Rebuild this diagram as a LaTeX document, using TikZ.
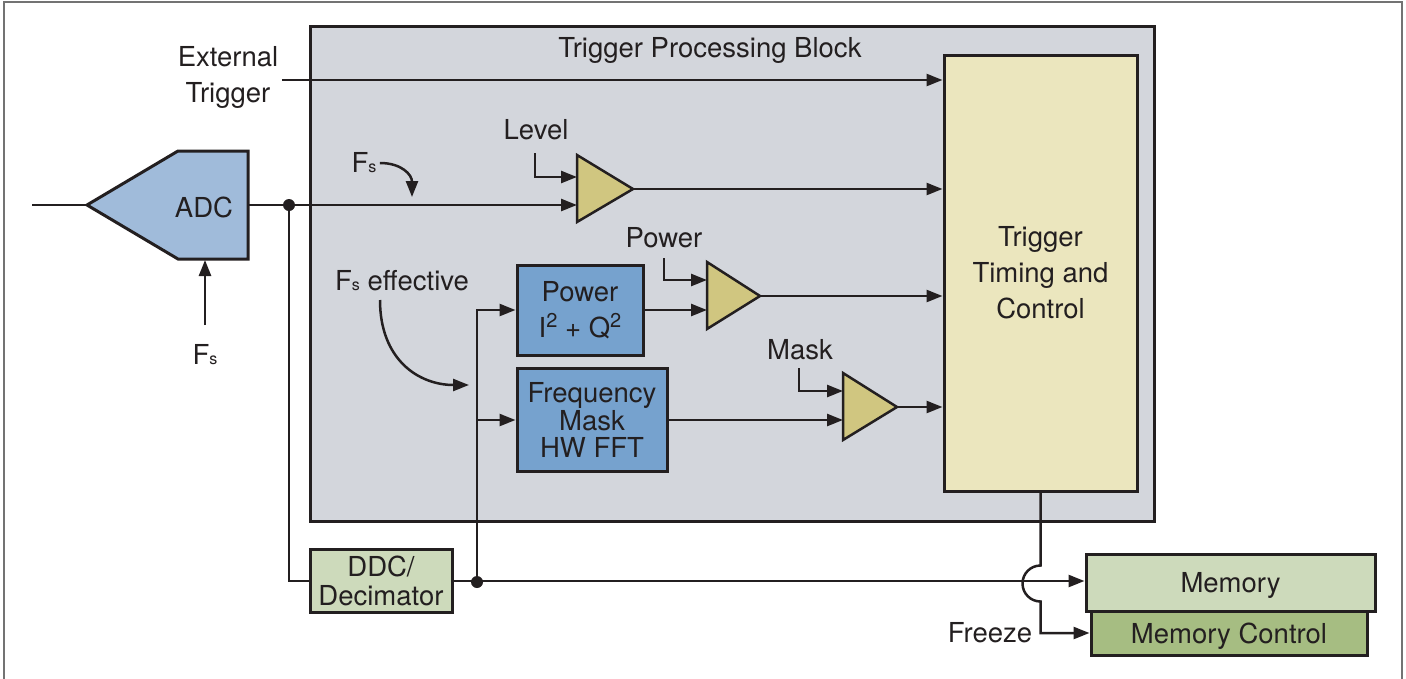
\documentclass[tikz,border=0pt]{standalone}
\usepackage{fontspec}
\setmainfont{TeX Gyre Heros}
\usetikzlibrary{arrows.meta,positioning}

\definecolor{ink}{RGB}{35,31,32}
\definecolor{tpbgray}{RGB}{211,214,220}
\definecolor{ttcyellow}{RGB}{235,230,190}
\definecolor{adcblue}{RGB}{160,187,218}
\definecolor{procblue}{RGB}{118,162,206}
\definecolor{ampolive}{RGB}{208,198,128}
\definecolor{palegreen}{RGB}{205,218,187}
\definecolor{darkgreen}{RGB}{166,189,130}

\newcommand{\Fsub}{F{\fontsize{16}{16}\selectfont s}}
\newcommand{\sqsup}{\raisebox{10pt}{\fontsize{20}{20}\selectfont 2}}

\begin{document}
\begin{tikzpicture}[
  x=1pt, y=-1pt,
  font=\fontsize{27.5}{36}\selectfont,
  >={Triangle[length=16pt,width=12pt]},
  every node/.style={text=ink},
  pageframe/.style={draw=black!55, line width=1.2pt},
  wire/.style={draw=ink, line width=2.5pt},
  tpb/.style={draw=ink, fill=tpbgray, line width=3pt, inner sep=0pt},
  ttc/.style={draw=ink, fill=ttcyellow, line width=3pt, align=center, inner sep=0pt},
  adc/.style={draw=ink, fill=adcblue, line width=3pt, line join=miter},
  amp/.style={draw=ink, fill=ampolive, line width=2.5pt, line join=miter},
  proc/.style={draw=ink, fill=procblue, line width=3pt, align=center, inner sep=0pt},
  ddcbox/.style={draw=ink, fill=palegreen, line width=3pt, align=center, inner sep=0pt},
  mem/.style={draw=ink, fill=palegreen, line width=3pt, inner sep=0pt, text depth=0pt},
  memctl/.style={draw=ink, fill=darkgreen, line width=3pt, inner sep=0pt, text depth=0pt},
  joint/.style={circle, fill=ink, inner sep=0pt, minimum size=12pt}
]
\useasboundingbox (0,0) rectangle (1406,678);
\draw[pageframe] (4,700) -- (4,2) -- (1402,2) -- (1402,700);

% trigger processing block
\node[tpb, minimum width=844pt, minimum height=495pt] (tpb) at (732,273.5) {};
\node (tpbtitle) at (710,50) {Trigger Processing Block};
\node[ttc, minimum width=193pt, minimum height=436pt] (ttc) at (1040.5,273) {Trigger\\Timing and\\Control};

% ADC
\draw[adc] (87,205) coordinate (adcin) -- (178,151) -- (248,151) -- (248,259) -- (178,259) -- cycle;
\node (adc) at (204,207) {ADC};
\coordinate (adcout) at (248,205);
\coordinate (adcclk) at (205,260);
\coordinate (sigin) at (32,205);
\draw[wire] (sigin) -- (adcin);
\node (fsadc) at (205,355) {\Fsub};
\coordinate (fsadcref) at (205,325);
\draw[wire,->] (fsadcref) -- (adcclk);

% comparators
\draw[amp] (577,155) -- (633,189) coordinate (lvlout) -- (577,222) -- cycle;
\coordinate (lvlin1) at (577,177);
\coordinate (lvlin2) at (577,205);
\draw[amp] (707,262) -- (760,296) coordinate (pampout) -- (707,329) -- cycle;
\coordinate (pampin1) at (707,280);
\coordinate (pampin2) at (707,310);
\draw[amp] (843,373) -- (897,407) coordinate (mampout) -- (843,440) -- cycle;
\coordinate (mampin1) at (843,391);
\coordinate (mampin2) at (843,420);

% processing boxes
\node[proc, minimum width=126pt, minimum height=90pt] (pwr) at (580,310) {Power\\I\sqsup\ + Q\sqsup};
\node[proc, minimum width=150pt, minimum height=103pt, font=\fontsize{27.5}{27.5}\selectfont] (fft) at (592,420) {Frequency\\Mask\\HW FFT};
\node[ddcbox, minimum width=142pt, minimum height=63pt, font=\fontsize{27.5}{29}\selectfont] (ddc) at (381,581) {DDC/\\Decimator};
\node[mem, minimum width=289pt, minimum height=57pt] (mem) at (1230.5,582.5) {Memory};
\node[memctl, minimum width=276pt, minimum height=44pt] (memc) at (1229,633) {Memory Control};

\node[joint] (split1) at (289,205) {};
\node[joint] (split2) at (477,582) {};

% labels
\node[align=center] (exttxt) at (228,77) {External\\Trigger};
\node (lvltxt) at (536,130) {Level};
\coordinate (lvlref) at (535,153);
\node (pwrtxt) at (664,238) {Power};
\coordinate (pwrref) at (664,258);
\node (msktxt) at (800,350) {Mask};
\coordinate (mskref) at (799,368);
\node (fstop) at (364,163) {\Fsub};
\coordinate (fstopend) at (412,197);
\node (fseff) at (402,281) {\Fsub\ effective};
\coordinate (fseffsrc) at (380,300);
\coordinate (fseffend) at (469,385);
\node (frz) at (990,633) {Freeze};

% connectors
\draw[wire,->] (exttxt.east |- 0,80) -- (ttc.west |- 0,80);
\draw[wire,->] (adcout) -- (lvlin2);
\draw[wire] (split1) |- (ddc.west);
\draw[wire,->] (lvlref) |- (lvlin1);
\draw[wire,->] (lvlout) -- (lvlout -| ttc.west);
\draw[wire,->] (fstop.east) .. controls +(22,0) and +(0,-22) .. (fstopend);
\draw[wire,->] (fseffsrc) .. controls +(0,60) and +(-50,0) .. (fseffend);
\draw[wire,->] (ddc.east) -- (ddc.east -| mem.west);
\draw[wire,->] (split2) |- (pwr.west);
\draw[wire,->] (split2 |- fft.west) -- (fft.west);
\draw[wire,->] (pwr.east) -- (pampin2);
\draw[wire,->] (pwrref) |- (pampin1);
\draw[wire,->] (pampout) -- (pampout -| ttc.west);
\draw[wire,->] (fft.east) -- (mampin2);
\draw[wire,->] (mskref) |- (mampin1);
\draw[wire,->] (mampout) -- (mampout -| ttc.west);
\draw[wire,->] (ttc.south) -- ++(0,73) arc[start angle=90, end angle=270, radius=18pt] |- (memc.west);

\end{tikzpicture}
\end{document}
